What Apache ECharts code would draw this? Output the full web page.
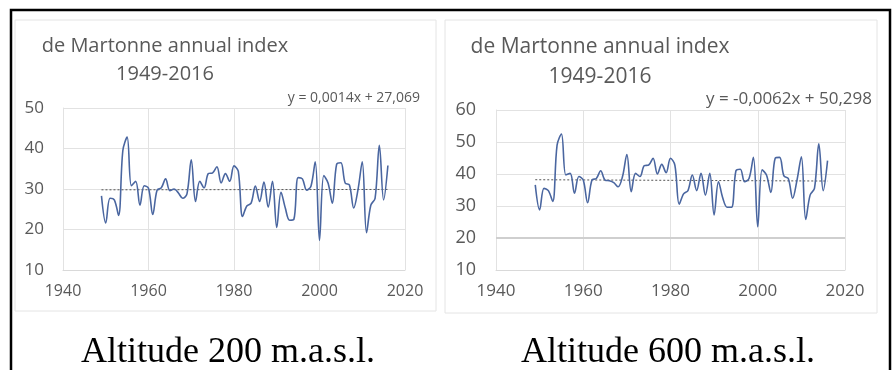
<!DOCTYPE html>
<html>
<head>
<meta charset="utf-8">
<script src="https://cdn.jsdelivr.net/npm/echarts@6/dist/echarts.min.js"></script>
<style>
  html, body { margin: 0; padding: 0; background: #fff; }
  #main { width: 893px; height: 370px; }
</style>
</head>
<body>
<div id="main"></div>
<script>
// years of record
const years = [
  1949, 1950, 1951, 1952, 1953, 1954, 1955, 1956, 1957, 1958, 1959,
  1960, 1961, 1962, 1963, 1964, 1965, 1966, 1967, 1968, 1969,
  1970, 1971, 1972, 1973, 1974, 1975, 1976, 1977, 1978, 1979,
  1980, 1981, 1982, 1983, 1984, 1985, 1986, 1987, 1988, 1989,
  1990, 1991, 1992, 1993, 1994, 1995, 1996, 1997, 1998, 1999,
  2000, 2001, 2002, 2003, 2004, 2005, 2006, 2007, 2008, 2009,
  2010, 2011, 2012, 2013, 2014, 2015, 2016
];

// de Martonne index, 200 m.a.s.l.
const index200 = [
  28.3, 21.6, 27.7, 27.3, 23.5, 39.5, 42.8, 30.8, 31.9, 26.0, 30.8,
  30.2, 23.7, 29.7, 30.3, 32.5, 29.6, 30.0, 29.0, 27.7, 28.8,
  37.2, 26.9, 31.9, 30.3, 33.8, 34.0, 35.5, 31.5, 33.8, 31.9,
  35.7, 34.4, 23.2, 25.8, 26.5, 30.7, 26.9, 31.7, 25.5, 31.9,
  20.5, 29.2, 25.3, 22.3, 22.5, 32.8, 32.5, 29.7, 30.7, 36.7,
  17.3, 33.3, 31.5, 26.5, 36.1, 36.5, 31.5, 31.0, 25.3, 29.8,
  36.7, 19.2, 26.0, 27.7, 40.8, 27.3, 35.8
];

// de Martonne index, 600 m.a.s.l.
const index600 = [
  36.6, 28.8, 35.5, 34.8, 31.4, 49.0, 52.5, 39.7, 40.2, 34.0, 39.2,
  38.1, 31.0, 38.1, 38.6, 41.0, 38.1, 37.9, 37.3, 36.0, 39.2,
  46.1, 34.5, 40.2, 39.2, 42.6, 42.8, 44.9, 40.0, 43.0, 40.4,
  44.9, 42.8, 30.6, 33.8, 34.8, 39.7, 34.8, 40.2, 33.4, 40.2,
  27.2, 37.6, 32.4, 29.6, 29.6, 41.0, 41.5, 37.6, 38.6, 45.2,
  23.5, 41.3, 39.7, 34.2, 44.9, 45.2, 39.4, 38.6, 32.4, 38.1,
  45.4, 25.8, 33.4, 35.5, 49.4, 34.8, 44.2
];

// linear trend end points (1949, 2016)
const trendYears = [1949, 2016];
const trend200 = [29.80, 29.89];
const trend600 = [38.21, 37.80];

const titleLines = ['de Martonne annual index', '1949-2016'];
const eq200 = 'y = 0,0014x + 27,069';
const eq600 = 'y = -0,0062x + 50,298';
const captions = ['Altitude 200 m.a.s.l.', 'Altitude 600 m.a.s.l.'];

const pairs = (xs, ys) => xs.map((x, i) => [x, ys[i]]);

const gray = '#595959';
const gridCol = '#e2e2e2';
const lineCol = '#4a66a0';
const font = 'Open Sans';

const mkX = (gi, size) => ({
  type: 'value', gridIndex: gi, min: 1940, max: 2020, interval: 20,
  axisLine: { show: true, lineStyle: { color: '#d9d9d9' } },
  axisTick: { show: false },
  splitLine: { show: true, lineStyle: { color: gridCol } },
  axisLabel: { color: gray, fontFamily: font, fontSize: size, margin: 13, formatter: v => String(v) }
});
const mkY = (gi, min, max, size, margin) => ({
  type: 'value', gridIndex: gi, min: min, max: max, interval: 10,
  axisLine: { show: true, lineStyle: { color: gridCol } },
  axisTick: { show: false },
  splitLine: { show: true, lineStyle: { color: gridCol } },
  axisLabel: { color: gray, fontFamily: font, fontSize: size, margin: margin }
});

const txt = (x, y, text, size, extra) => ({
  type: 'text', x: x, y: y, z: 10,
  style: Object.assign({
    text: text, fontFamily: font, fontSize: size, fill: gray,
    align: 'center', verticalAlign: 'middle'
  }, extra || {})
});

let myChart = echarts.init(document.getElementById('main'));
myChart.setOption({
  animation: false,
  grid: [
    { left: 63, right: 488, top: 108, bottom: 100 },
    { left: 496, right: 48, top: 110, bottom: 100 }
  ],
  xAxis: [mkX(0, 16), mkX(1, 17)],
  yAxis: [mkY(0, 10, 50, 17, 19), mkY(1, 10, 60, 18, 20)],
  series: [
    {
      type: 'line', xAxisIndex: 0, yAxisIndex: 0, smooth: 0.35, showSymbol: false,
      data: pairs(years, index200), lineStyle: { color: lineCol, width: 1.6 }, z: 3
    },
    {
      type: 'line', xAxisIndex: 0, yAxisIndex: 0, showSymbol: false,
      data: pairs(trendYears, trend200), lineStyle: { color: '#555', width: 1, type: [2, 2] }, z: 2
    },
    {
      type: 'line', xAxisIndex: 1, yAxisIndex: 1, smooth: 0.35, showSymbol: false,
      data: pairs(years, index600), lineStyle: { color: lineCol, width: 1.6 }, z: 3,
      markLine: {
        silent: true, symbol: 'none', label: { show: false },
        lineStyle: { color: '#cfcfcf', width: 2, type: 'solid' },
        data: [{ yAxis: 20 }]
      }
    },
    {
      type: 'line', xAxisIndex: 1, yAxisIndex: 1, showSymbol: false,
      data: pairs(trendYears, trend600), lineStyle: { color: '#555', width: 1, type: [2, 2] }, z: 2
    }
  ],
  graphic: [
    // outer black frame
    { type: 'rect', shape: { x: 11, y: 10, width: 879, height: 370 },
      style: { fill: 'none', stroke: '#000', lineWidth: 2.5 } },
    // chart panels
    { type: 'rect', shape: { x: 15, y: 20, width: 421, height: 291 },
      style: { fill: 'none', stroke: '#e4e4e4', lineWidth: 1 } },
    { type: 'rect', shape: { x: 445, y: 20, width: 432, height: 293 },
      style: { fill: 'none', stroke: '#e4e4e4', lineWidth: 1 } },
    txt(165, 46, titleLines[0], 20),
    txt(165, 74, titleLines[1], 20),
    txt(600, 47, titleLines[0], 21),
    txt(600, 77, titleLines[1], 21),
    txt(420, 98, eq200, 14, { align: 'right' }),
    txt(872, 99, eq600, 17, { align: 'right' }),
    txt(228, 353, captions[0], 36, { fontFamily: 'Liberation Serif', fill: '#000' }),
    txt(668, 353, captions[1], 36, { fontFamily: 'Liberation Serif', fill: '#000' })
  ]
});
</script>
</body>
</html>
